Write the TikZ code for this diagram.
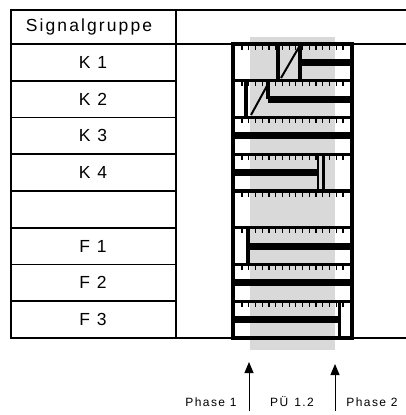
\documentclass[tikz,border=0pt]{standalone}
\usepackage{fontspec}
\setmainfont{Liberation Sans}[LetterSpace=12]
\usetikzlibrary{arrows.meta}

\tikzset{
  rigatab/.style={line width=1.6pt},
  rigaspessa/.style={line width=3.2pt},
  verde/.style={line width=7pt},
  diagonale/.style={line width=2pt},
  tacca/.style={line width=1.2pt},
  etich/.style={font=\fontsize{17.5}{20}\selectfont, inner sep=0pt},
  fase/.style={font=\fontsize{12}{14}\selectfont, inner sep=0pt},
  freccia/.style={line width=1pt, -{Triangle[length=11pt,width=9pt]}}
}

\begin{document}
\begin{tikzpicture}[x=1pt,y=-1pt]
  \useasboundingbox (0,0) rectangle (406,415);

  % Fascia grigia del passaggio di fase
  \fill[black!15] (250,37) rectangle (335,350);

  % Tabella
  \draw[rigatab] (406,10) -- (11,10) -- (11,338) -- (406,338);
  \draw[rigatab] (11,44) -- (406,44);
  \draw[rigatab] (176,10) -- (176,338);
  \foreach \i in {1,...,7}
    \draw[rigatab] (11,{44+36.75*\i}) -- (176,{44+36.75*\i});

  \node[etich] (titolo) at (89,27) {Signalgruppe};
  \foreach \nome [count=\i] in {K 1,K 2,K 3,K 4,{},F 1,F 2,F 3}
    \node[etich] (sg\i) at (93,{44+36.75*(\i-0.5)}) {\nome};

  % Bordi e righe del diagramma
  \draw[rigaspessa] (233,44) -- (233,338);
  \draw[rigaspessa] (352,44) -- (352,338);
  \foreach \i in {0,...,8}
    \draw[rigaspessa] (231.4,{44+36.75*\i}) -- (353.6,{44+36.75*\i});

  % Tacche dei secondi
  \foreach \r in {0,...,7}
    \foreach \k in {0,...,15}
      \draw[tacca] ({242+6.73*\k},{44+36.75*\r}) -- ++(0,5.5);

  % K 1
  \draw[rigaspessa] (278,44) -- (278,80.75);
  \draw[rigaspessa] (300,44) -- (300,80.75);
  \draw[diagonale] (281,78) -- (299,47);
  \draw[verde] (300,62.4) -- (352,62.4);

  % K 2
  \draw[rigaspessa] (246,80.75) -- (246,117.5);
  \draw[rigaspessa] (268,80.75) -- (268,99);
  \draw[diagonale] (251,115) -- (268,84);
  \draw[verde] (268,99.1) -- (352,99.1);

  % K 3
  \draw[verde] (233,135.9) -- (352,135.9);

  % K 4
  \draw[verde] (233,172.6) -- (317,172.6);
  \draw[line width=1.2pt] (318,154.25) -- (318,191);
  \draw[rigaspessa] (323.5,154.25) -- (323.5,191);

  % F 1
  \draw[rigaspessa] (248,227.75) -- (248,264.5);
  \draw[verde] (248,246.1) -- (352,246.1);

  % F 2
  \draw[verde] (233,282.9) -- (352,282.9);

  % F 3
  \draw[verde] (233,319.6) -- (338,319.6);
  \draw[rigaspessa] (339.5,301.25) -- (339.5,338);

  % Frecce e fasi
  \coordinate (p1a) at (249,411);
  \coordinate (p1b) at (249,362);
  \coordinate (p2a) at (335,411);
  \coordinate (p2b) at (335,364);
  \draw[freccia] (p1a) -- (p1b);
  \draw[freccia] (p2a) -- (p2b);
  \node[fase] (fase1) at (211,402) {Phase 1};
  \node[fase] (pu) at (292,402) {PÜ\enspace 1.2};
  \node[fase] (fase2) at (372,402) {Phase 2};
\end{tikzpicture}
\end{document}
